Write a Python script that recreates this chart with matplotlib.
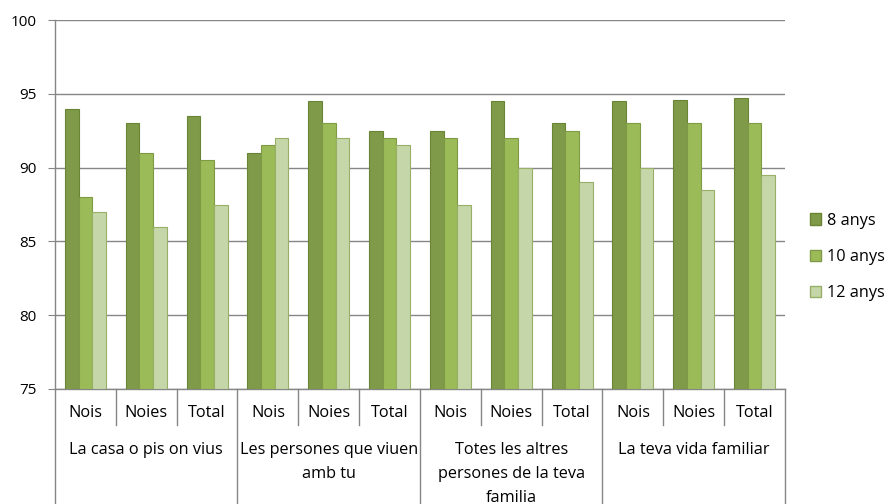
import matplotlib
matplotlib.use("Agg")
import matplotlib.pyplot as plt
import numpy as np
from matplotlib.patches import Patch

plt.rcParams['font.family'] = ['Open Sans', 'DejaVu Sans']

groups = ["La casa o pis on vius", "Les persones que viuen\namb tu",
          "Totes les altres\npersones de la teva\nfamilia", "La teva vida familiar"]
subcats = ["Nois", "Noies", "Total"]
series_names = ["8 anys", "10 anys", "12 anys"]
v8 = [94.0, 93.0, 93.5, 91.0, 94.5, 92.5, 92.5, 94.5, 93.0, 94.5, 94.6, 94.7]
v10 = [88.0, 91.0, 90.5, 91.5, 93.0, 92.0, 92.0, 92.0, 92.5, 93.0, 93.0, 93.0]
v12 = [87.0, 86.0, 87.5, 92.0, 92.0, 91.5, 87.5, 90.0, 89.0, 90.0, 88.5, 89.5]

fills = ["#7F9A48", "#9BBB59", "#C5D6A8"]
edges = ["#6A8436", "#7E9A44", "#98AF68"]
FS = 11.7

fig = plt.figure(figsize=(8.87, 5.04), dpi=100)
ax = fig.add_axes([55/887, 1-389/504, 730/887, 369/504])

n = len(v8)
x = np.arange(n)
w = 0.225
for k, vals in enumerate([v8, v10, v12]):
    ax.bar(x + (k-1)*w, np.array(vals) - 75, width=w, bottom=75,
           color=fills[k], edgecolor=edges[k], linewidth=0.8, zorder=3,
           label=series_names[k])

ax.set_xlim(-0.5, n-0.5)
ax.set_ylim(75, 100)
ax.set_yticks([75, 80, 85, 90, 95, 100])
ax.yaxis.grid(True, color="#868686", linewidth=1)
ax.set_axisbelow(True)
ax.tick_params(axis='y', length=5, color="#868686", labelsize=11, pad=8,
               labelcolor="black")
ax.set_xticks([])
for s in ['top', 'right']:
    ax.spines[s].set_visible(False)
for s in ['left', 'bottom']:
    ax.spines[s].set_color("#868686")
    ax.spines[s].set_linewidth(1)

trans = ax.get_xaxis_transform()
short_y = -36/369
long_y = -116/369
for b in np.arange(-0.5, n, 1.0):
    idx = int(b + 0.5)
    if idx % 3 == 0:
        ax.plot([b, b], [0, long_y], transform=trans, color="#868686",
                linewidth=1, clip_on=False)
    else:
        ax.plot([b, b], [0, short_y], transform=trans, color="#868686",
                linewidth=1, clip_on=False)

for i in range(n):
    ax.text(i, -24/369, subcats[i % 3], transform=trans, ha='center',
            va='center', fontsize=FS)

for g, name in enumerate(groups):
    ax.text(g*3 + 1, -53/369, name, transform=trans, ha='center', va='top',
            fontsize=FS, linespacing=1.65)

handles = [Patch(facecolor=fills[k], edgecolor=edges[k], label=series_names[k])
           for k in range(3)]
ax.legend(handles=handles, loc='center left', bbox_to_anchor=(1.034, 0.358),
          frameon=False, fontsize=FS, handlelength=0.7, handleheight=0.7,
          handletextpad=0.35, labelspacing=1.25, borderpad=0, borderaxespad=0)

fig.savefig("out.png", dpi=100)
